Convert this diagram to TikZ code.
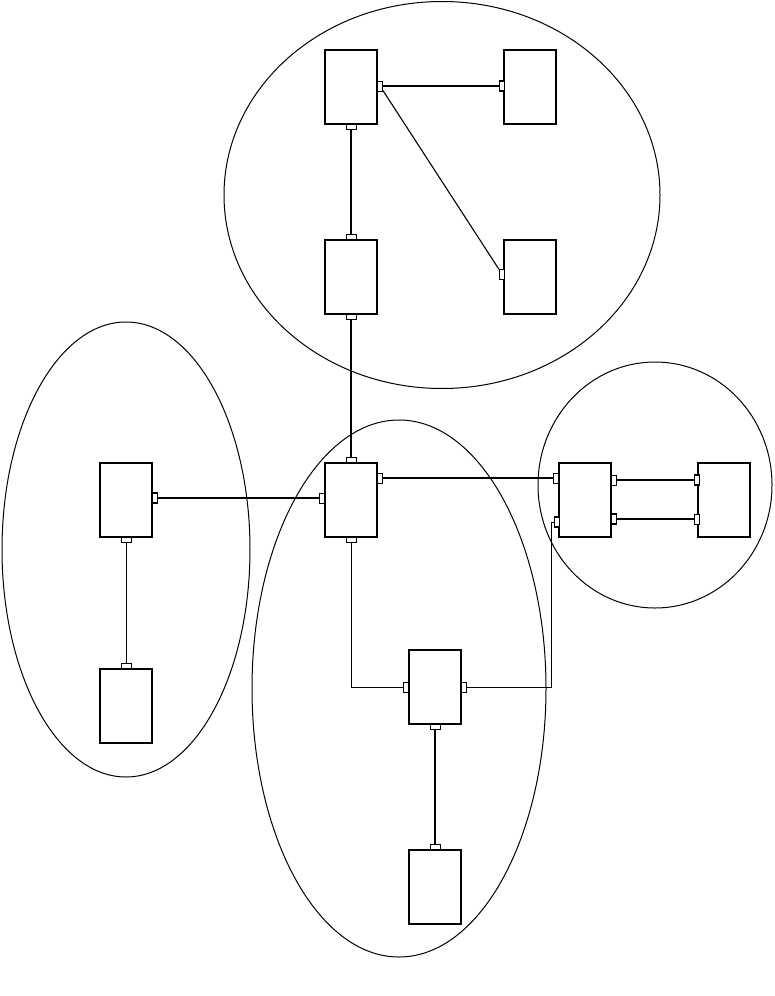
\documentclass[tikz,border=0pt]{standalone}
\usepackage{tikz}
\usetikzlibrary{positioning, calc}

\tikzset{
  unit/.style={rectangle, draw, fill=white, line width=1.2pt, minimum width=52pt, minimum height=74pt, inner sep=0pt},
  portv/.style={rectangle, draw, fill=white, line width=1pt, minimum width=5pt, minimum height=10pt, inner sep=0pt},
  porth/.style={rectangle, draw, fill=white, line width=1pt, minimum width=10pt, minimum height=5pt, inner sep=0pt},
  group/.style={draw, line width=1pt},
  thick link/.style={line width=1.8pt},
  thin link/.style={line width=0.8pt}
}

\begin{document}
\begin{tikzpicture}[x=1pt, y=-1pt]
  \useasboundingbox (0,0) rectangle (774,996);

  % groups
  \draw[group] (442,195) ellipse [x radius=218pt, y radius=193.5pt];
  \draw[group] (126,549.5) ellipse [x radius=124pt, y radius=227.5pt];
  \draw[group] (399,688.5) ellipse [x radius=147pt, y radius=268.5pt];
  \draw[group] (655,485) ellipse [x radius=117pt, y radius=123pt];

  % units
  \node[unit] (T1) at (351,87) {};
  \node[unit] (T2) at (530,87) {};
  \node[unit] (T3) at (351,277) {};
  \node[unit] (T4) at (530,277) {};
  \node[unit] (C) at (351,500) {};
  \node[unit] (L1) at (126,500) {};
  \node[unit] (L2) at (126,706) {};
  \node[unit] (R1) at (585,500) {};
  \node[unit] (R2) at (724,500) {};
  \node[unit] (M1) at (435,687) {};
  \node[unit] (M2) at (435,887) {};

  % ports
  \node[portv] (T1e) at (380,86) {};
  \node[porth] (T1s) at (351,127) {};
  \node[portv, line width=1.5pt] (T2w) at (502,86) {};
  \node[porth] (T3n) at (351,237) {};
  \node[porth] (T3s) at (351,317) {};
  \node[portv] (T4w) at (502,274) {};
  \node[porth] (Cn) at (351,460) {};
  \node[portv] (Ce) at (380,478) {};
  \node[portv] (Cw) at (322,498) {};
  \node[porth] (Cs) at (351,540) {};
  \node[portv, line width=1.5pt] (L1e) at (155,498) {};
  \node[porth] (L1s) at (126,540) {};
  \node[porth] (L2n) at (126,666) {};
  \node[portv] (R1wa) at (556,478) {};
  \node[portv, line width=1.5pt] (R1wb) at (557,522) {};
  \node[portv] (R1ea) at (614,480) {};
  \node[portv, line width=1.5pt] (R1eb) at (614,519) {};
  \node[portv, line width=1.5pt] (R2wa) at (697,480) {};
  \node[portv] (R2wb) at (697,519) {};
  \node[portv] (M1w) at (406,687) {};
  \node[portv] (M1e) at (464,687) {};
  \node[porth] (M1s) at (435,727) {};
  \node[porth] (M2n) at (435,847) {};

  % links
  \draw[thick link] (T1e) -- (T2w);
  \draw[line width=1.1pt] (T1e) -- (T4w);
  \draw[thick link] (T1s) -- (T3n);
  \draw[thick link] (T3s) -- (Cn);
  \draw[thick link] (Ce) -- (R1wa);
  \draw[thick link] (Cw) -- (L1e);
  \draw[thin link] (L1s) -- (L2n);
  \draw[thin link] (Cs) |- (M1w);
  \draw[thin link] (M1e) -| (551,522) -- (R1wb);
  \draw[thick link] (M1s) -- (M2n);
  \draw[thick link] (R1ea) -- (R2wa);
  \draw[thick link] (R1eb) -- (R2wb);
\end{tikzpicture}
\end{document}
